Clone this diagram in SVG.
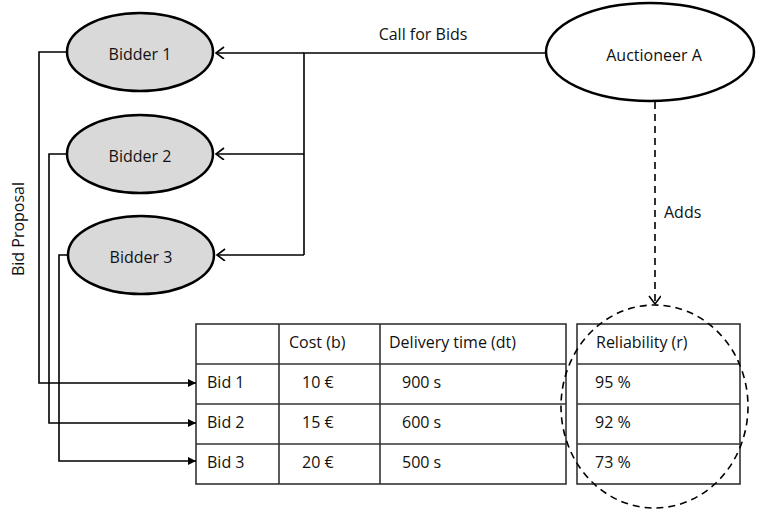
<svg xmlns="http://www.w3.org/2000/svg" width="757" height="514" viewBox="0 0 757 514">
<style>
text{font-family:"Open Sans","Noto Sans","Liberation Sans",sans-serif;font-size:16px;fill:#111}
.bidder{fill:#d9d9d9;stroke:#000;stroke-width:2.5}
.auct{fill:#fff;stroke:#000;stroke-width:2.5}
.conn{fill:none;stroke:#000;stroke-width:1.6}
.dash{fill:none;stroke:#000;stroke-width:1.6;stroke-dasharray:7 5}
.tbl{fill:#fff;stroke:#333;stroke-width:1.6}
.grid{stroke:#333;stroke-width:1.6}
.mid{text-anchor:middle}
</style>
<defs>
<marker id="open" markerWidth="12" markerHeight="14" refX="9" refY="6" orient="auto" markerUnits="userSpaceOnUse">
<path d="M1,0 L9,6 L1,12" fill="none" stroke="#000" stroke-width="1.6"/>
</marker>
<marker id="filled" markerWidth="10" markerHeight="10" refX="8" refY="4" orient="auto" markerUnits="userSpaceOnUse">
<path d="M0,0 L8,4 L0,8 Z" fill="#000"/>
</marker>
</defs>

<g id="table-bids">
<rect class="tbl" x="196" y="324" width="370" height="160"/>
<line class="grid" x1="279" y1="324" x2="279" y2="484"/>
<line class="grid" x1="380" y1="324" x2="380" y2="484"/>
<line class="grid" x1="196" y1="364" x2="566" y2="364"/>
<line class="grid" x1="196" y1="404" x2="566" y2="404"/>
<line class="grid" x1="196" y1="444" x2="566" y2="444"/>
<text x="289" y="348">Cost (b)</text>
<text x="389" y="348">Delivery time (dt)</text>
<text x="207" y="388">Bid 1</text>
<text x="207" y="428">Bid 2</text>
<text x="207" y="468">Bid 3</text>
<text x="302" y="388">10 €</text>
<text x="302" y="428">15 €</text>
<text x="302" y="468">20 €</text>
<text x="402" y="388">900 s</text>
<text x="402" y="428">600 s</text>
<text x="402" y="468">500 s</text>
</g>

<g id="table-reliability">
<rect class="tbl" x="577" y="324" width="163" height="160"/>
<line class="grid" x1="577" y1="364" x2="740" y2="364"/>
<line class="grid" x1="577" y1="404" x2="740" y2="404"/>
<line class="grid" x1="577" y1="444" x2="740" y2="444"/>
<text x="596" y="348">Reliability (r)</text>
<text x="595" y="388">95 %</text>
<text x="595" y="428">92 %</text>
<text x="595" y="468">73 %</text>
</g>

<g id="connectors">
<path class="conn" d="M545,53 H304 V255" />
<path class="conn" d="M304,53 H216" marker-end="url(#open)"/>
<path class="conn" d="M304,154 H216" marker-end="url(#open)"/>
<path class="conn" d="M304,255 H217" marker-end="url(#open)"/>
<path class="conn" d="M67,52 H39 V383 H196" marker-end="url(#filled)"/>
<path class="conn" d="M67,154 H49 V423 H196" marker-end="url(#filled)"/>
<path class="conn" d="M68,255 H59 V461 H196" marker-end="url(#filled)"/>
<path class="dash" d="M655,102 V304" marker-end="url(#open)"/>
<text x="423" y="40" class="mid">Call for Bids</text>
<text x="664" y="218">Adds</text>
<text transform="translate(24,229) rotate(-90)" class="mid">Bid Proposal</text>
</g>

<g id="bidder1">
<ellipse class="bidder" cx="140" cy="52" rx="73" ry="39"/>
<text x="140" y="60" class="mid">Bidder 1</text>
</g>
<g id="bidder2">
<ellipse class="bidder" cx="140" cy="154" rx="73" ry="39"/>
<text x="140" y="162" class="mid">Bidder 2</text>
</g>
<g id="bidder3">
<ellipse class="bidder" cx="141" cy="255" rx="73" ry="39"/>
<text x="141" y="263" class="mid">Bidder 3</text>
</g>
<g id="auctioneer">
<ellipse class="auct" cx="650" cy="52" rx="104" ry="49"/>
<text x="654" y="61" class="mid">Auctioneer A</text>
</g>

<g id="reliability-highlight">
<ellipse class="dash" cx="654.5" cy="406.5" rx="93.5" ry="101.5"/>
</g>
</svg>
